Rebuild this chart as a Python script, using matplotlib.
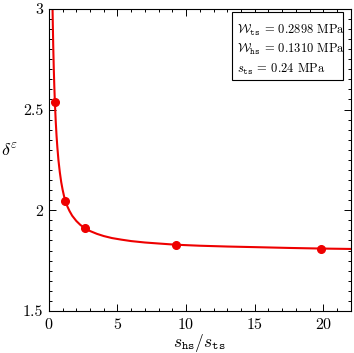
import numpy as np
import matplotlib
matplotlib.use("Agg")
from matplotlib import pyplot as plt
from matplotlib.ticker import MultipleLocator
from matplotlib.patches import Rectangle

plt.rcParams['mathtext.fontset'] = 'cm'
plt.rcParams['font.family'] = 'serif'
plt.rcParams['font.serif'] = ['cmr10', 'DejaVu Serif']
plt.rcParams['axes.formatter.use_mathtext'] = True

# curve
curve_x = [0.25, 0.27, 0.29, 0.32, 0.36, 0.40, 0.44, 0.5, 0.56, 0.62, 0.7, 0.8, 0.9,
           1.0, 1.1, 1.2, 1.35, 1.5, 1.7, 2.0, 2.3, 2.65, 3.0, 3.5, 4.0, 4.6, 5.3,
           6.0, 7.0, 8.0, 9.25, 11.0, 13.0, 15.0, 17.5, 19.83, 22.0]
curve_y = [3.097, 3.001, 2.918, 2.813, 2.700, 2.610, 2.536, 2.443, 2.370, 2.312, 2.248,
           2.188, 2.140, 2.103, 2.072, 2.047, 2.019, 1.997, 1.973, 1.947, 1.927, 1.910,
           1.897, 1.883, 1.872, 1.862, 1.854, 1.847, 1.840, 1.835, 1.829, 1.824, 1.820,
           1.817, 1.813, 1.810, 1.808]

# marked points
pts_x = [0.44, 1.2, 2.65, 9.25, 19.83]
pts_y = [2.536, 2.047, 1.910, 1.829, 1.810]

legend_lines = [r'$\mathcal{W}_{\mathtt{ts}}$ = 0.2898 MPa',
                r'$\mathcal{W}_{\mathtt{hs}}$ = 0.1310 MPa',
                r'$s_{\mathtt{ts}}$ = 0.24 MPa']

fig = plt.figure(figsize=(3.54, 3.53), dpi=100)
ax = fig.add_axes([0.138, 0.119, 0.853, 0.856])

ax.plot(curve_x, curve_y, color='#ee0000', lw=1.5, zorder=2)
ax.plot(pts_x, pts_y, 'o', color='#ee0000', ms=5.5, zorder=3)

ax.set_xlim(0, 22)
ax.set_ylim(1.5, 3)
ax.xaxis.set_major_locator(MultipleLocator(5))
ax.xaxis.set_minor_locator(MultipleLocator(1))
ax.yaxis.set_minor_locator(MultipleLocator(0.05))
ax.set_yticks([1.5, 2, 2.5, 3])
ax.set_yticklabels(['1.5', '2', '2.5', '3'])
ax.tick_params(which='both', direction='in', top=True, right=True, labelsize=11.5, width=0.7)
ax.tick_params(which='major', length=5, pad=4)
ax.tick_params(which='minor', length=2.5)
for s in ax.spines.values():
    s.set_linewidth(0.8)

ax.set_xlabel(r'$s_{\mathtt{hs}}/s_{\mathtt{ts}}$', fontsize=12.5, labelpad=0)
ax.set_ylabel(r'$\delta^{\varepsilon}$', fontsize=13, rotation=0)
ax.yaxis.set_label_coords(-0.13, 0.5)

ax.add_patch(Rectangle((0.606, 0.765), 0.367, 0.225, transform=ax.transAxes,
                       fc='white', ec='black', lw=0.8, zorder=4))
for i, line in enumerate(legend_lines):
    ax.text(0.622, 0.93 - i * 0.066, line, transform=ax.transAxes, fontsize=9,
            va='center', ha='left', zorder=5)

fig.savefig('out.png', dpi=100)
